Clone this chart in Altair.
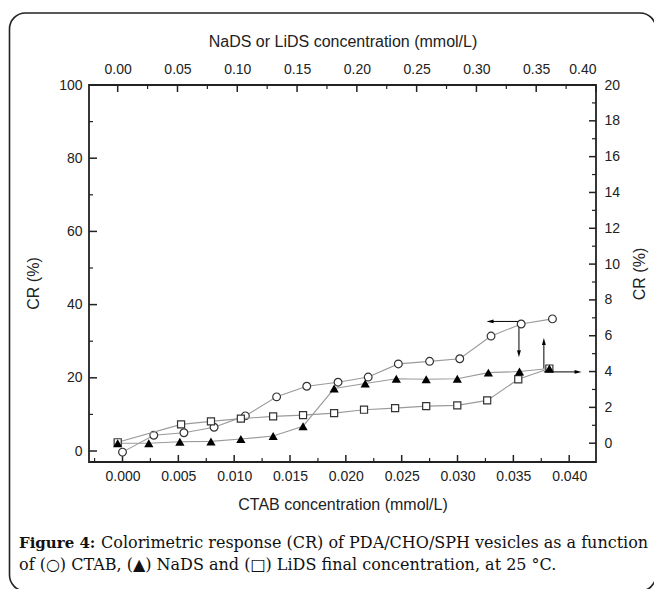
import altair as alt
import pandas as pd

# ---- data ----
ctab_x = [0.0000, 0.0028, 0.0055, 0.0082, 0.0110, 0.0138, 0.0165, 0.0193,
          0.0220, 0.0247, 0.0275, 0.0302, 0.0330, 0.0357, 0.0385]
ctab_cr = [-0.3, 4.3, 5.0, 6.5, 9.6, 14.8, 17.7, 18.8,
           20.2, 23.8, 24.5, 25.2, 31.4, 34.7, 36.1]

nads_x = [0.000, 0.026, 0.052, 0.078, 0.103, 0.130, 0.155, 0.181,
          0.207, 0.233, 0.258, 0.284, 0.310, 0.336, 0.361]
nads_cr = [0.00, 0.00, 0.08, 0.10, 0.23, 0.40, 0.95, 3.05,
           3.33, 3.60, 3.57, 3.60, 3.94, 4.00, 4.17]

lids_x = [0.000, 0.053, 0.078, 0.103, 0.130, 0.155, 0.181,
          0.206, 0.232, 0.258, 0.284, 0.309, 0.335, 0.361]
lids_cr = [0.05, 1.05, 1.22, 1.37, 1.50, 1.57, 1.68,
           1.87, 1.96, 2.07, 2.11, 2.39, 3.57, 4.17]

# tick values
ctab_major = [0.000, 0.005, 0.010, 0.015, 0.020, 0.025, 0.030, 0.035, 0.040]
ctab_minor = [-0.0025, 0.0025, 0.0075, 0.0125, 0.0175, 0.0225, 0.0275, 0.0325, 0.0375]
sds_major = [0.00, 0.05, 0.10, 0.15, 0.20, 0.25, 0.30, 0.35, 0.40]
sds_minor = [0.025, 0.075, 0.125, 0.175, 0.225, 0.275, 0.325, 0.375]
crl_major = [0, 20, 40, 60, 80, 100]
crl_minor = [10, 30, 50, 70, 90]
crr_major = [0, 2, 4, 6, 8, 10, 12, 14, 16, 18, 20]
crr_minor = [1, 3, 5, 7, 9, 11, 13, 15, 17, 19]

# arrows (data coordinates)
arrow_left_seg = [(0.0355, 35.4, 0.0330, 35.4), (0.0355, 35.4, 0.0355, 27.5)]
arrow_left_head = [(0.0326, 35.4, "M0,0L2,-0.55L2,0.55Z"),
                   (0.0355, 25.6, "M0,0L-0.55,-2L0.55,-2Z")]
arrow_right_seg = [(0.3564, 4.17, 0.3564, 5.5), (0.3564, 3.98, 0.384, 3.98)]
arrow_right_head = [(0.3564, 5.87, "M0,0L-0.55,2L0.55,2Z"),
                    (0.3879, 3.98, "M0,0L-2,-0.55L-2,0.55Z")]

W, H = 507, 377
SANS = "Liberation Sans"
SERIF = "DejaVu Serif"

xb = alt.Scale(domain=[-0.003, 0.0424], nice=False, zero=False)
yl = alt.Scale(domain=[-3, 100], nice=False, zero=False)
xt = alt.Scale(domain=[-0.024, 0.40], nice=False, zero=False)
yr = alt.Scale(domain=[-1.05, 20], nice=False, zero=False)

common = dict(ticks=False, domain=False, grid=False, labelFont=SANS, labelFontSize=14,
              labelColor="#222", titleFont=SANS, titleFontSize=16, titleColor="#222",
              titleFontWeight="normal")

ax_bottom = alt.Axis(orient="bottom", values=ctab_major, format=".3f", labelPadding=7,
                     title="CTAB concentration (mmol/L)", titlePadding=13, **common)
ax_left = alt.Axis(orient="left", values=crl_major, format="d", labelPadding=7,
                   title="CR (%)", titlePadding=17, titleY=198, **common)
ax_top = alt.Axis(orient="top", values=sds_major, format=".2f", labelPadding=9,
                  title="NaDS or LiDS concentration (mmol/L)", titlePadding=13, **common)
ax_right = alt.Axis(orient="right", values=crr_major, format="d", labelPadding=8,
                    title="CR (%)", titlePadding=12, titleAngle=270, titleBaseline="top",
                    **common)


def XB(f):
    return alt.X(f, type="quantitative", scale=xb, axis=ax_bottom)


def YL(f):
    return alt.Y(f, type="quantitative", scale=yl, axis=ax_left)


def XT(f):
    return alt.X(f, type="quantitative", scale=xt, axis=ax_top)


def YR(f):
    return alt.Y(f, type="quantitative", scale=yr, axis=ax_right)


ctab_df = pd.DataFrame({"x": ctab_x, "y": ctab_cr})
nads_df = pd.DataFrame({"x": nads_x, "y": nads_cr})
lids_df = pd.DataFrame({"x": lids_x, "y": lids_cr})

# ---------- left / bottom group (CTAB) ----------
c_line = alt.Chart(ctab_df).mark_line(color="#9a9a9a", strokeWidth=1.1).encode(
    x=XB("x"), y=YL("y"))
c_pts = alt.Chart(ctab_df).mark_point(shape="circle", fill="white", fillOpacity=1, opacity=1,
                                      stroke="#333", strokeWidth=1.2, size=60).encode(
    x=XB("x"), y=YL("y"))

bmaj = alt.Chart(pd.DataFrame({"x": ctab_major})).mark_rule(color="#222", strokeWidth=1.5).encode(
    x=XB("x"), y=alt.value(H), y2=alt.value(H - 7))
bmin = alt.Chart(pd.DataFrame({"x": ctab_minor})).mark_rule(color="#222", strokeWidth=1.2).encode(
    x=XB("x"), y=alt.value(H), y2=alt.value(H - 4))
lmaj = alt.Chart(pd.DataFrame({"y": crl_major})).mark_rule(color="#222", strokeWidth=1.5).encode(
    y=YL("y"), x=alt.value(0), x2=alt.value(8))
lmin = alt.Chart(pd.DataFrame({"y": crl_minor})).mark_rule(color="#222", strokeWidth=1.2).encode(
    y=YL("y"), x=alt.value(0), x2=alt.value(4))

l_seg_df = pd.DataFrame(arrow_left_seg, columns=["x", "y", "x2", "y2"])
l_head_df = pd.DataFrame(arrow_left_head, columns=["x", "y", "shape"])
l_seg = alt.Chart(l_seg_df).mark_rule(color="black", strokeWidth=1).encode(
    x=XB("x"), y=YL("y"), x2="x2:Q", y2="y2:Q")
l_head = alt.Chart(l_head_df).mark_point(filled=True, color="black", opacity=1, size=49).encode(
    x=XB("x"), y=YL("y"), shape=alt.Shape("shape:N", scale=None))

one = alt.Data(values=[{"k": 1}])
border = alt.Chart(one).mark_rect(fill="white", fillOpacity=0, stroke="#222", strokeWidth=1.6,
                                  cornerRadius=16).encode(
    x=alt.value(-79.5), x2=alt.value(567), y=alt.value(-72), y2=alt.value(506))
cap1a = alt.Chart(one).mark_text(align="left", baseline="alphabetic", font=SERIF, fontSize=15,
                                 fontWeight="bold", color="#111").encode(
    x=alt.value(-70), y=alt.value(463), text=alt.value("Figure 4:"))
cap1b = alt.Chart(one).mark_text(align="left", baseline="alphabetic", font=SERIF, fontSize=16,
                                 color="#111").encode(
    x=alt.value(12), y=alt.value(463),
    text=alt.value("Colorimetric response (CR) of PDA/CHO/SPH vesicles as a function"))
cap2 = alt.Chart(one).mark_text(align="left", baseline="alphabetic", font=SERIF, fontSize=16,
                                color="#111").encode(
    x=alt.value(-70), y=alt.value(485),
    text=alt.value("of (\u25CB) CTAB, (\u25B2) NaDS and (\u25A1) LiDS final concentration, at 25 \u00B0C."))

left_group = alt.layer(c_line, bmaj, bmin, lmaj, lmin, l_seg, l_head, c_pts,
                       border, cap1a, cap1b, cap2)

# ---------- right / top group (NaDS, LiDS) ----------
n_line = alt.Chart(nads_df).mark_line(color="#9a9a9a", strokeWidth=1.1).encode(
    x=XT("x"), y=YR("y"))
s_line = alt.Chart(lids_df).mark_line(color="#9a9a9a", strokeWidth=1.1).encode(
    x=XT("x"), y=YR("y"))
s_pts = alt.Chart(lids_df).mark_point(shape="square", fill="white", fillOpacity=1, opacity=1,
                                      stroke="#333", strokeWidth=1.2, size=50).encode(
    x=XT("x"), y=YR("y"))
n_pts = alt.Chart(nads_df).mark_point(shape="triangle-up", filled=True, color="black",
                                      opacity=1, size=85).encode(
    x=XT("x"), y=YR("y"))

tmaj = alt.Chart(pd.DataFrame({"x": sds_major})).mark_rule(color="#222", strokeWidth=1.5).encode(
    x=XT("x"), y=alt.value(0), y2=alt.value(7))
tmin = alt.Chart(pd.DataFrame({"x": sds_minor})).mark_rule(color="#222", strokeWidth=1.2).encode(
    x=XT("x"), y=alt.value(0), y2=alt.value(4))
rmaj = alt.Chart(pd.DataFrame({"y": crr_major})).mark_rule(color="#222", strokeWidth=1.5).encode(
    y=YR("y"), x=alt.value(W), x2=alt.value(W - 7))
rmin = alt.Chart(pd.DataFrame({"y": crr_minor})).mark_rule(color="#222", strokeWidth=1.2).encode(
    y=YR("y"), x=alt.value(W), x2=alt.value(W - 4))

r_seg_df = pd.DataFrame(arrow_right_seg, columns=["x", "y", "x2", "y2"])
r_head_df = pd.DataFrame(arrow_right_head, columns=["x", "y", "shape"])
r_seg = alt.Chart(r_seg_df).mark_rule(color="black", strokeWidth=1).encode(
    x=XT("x"), y=YR("y"), x2="x2:Q", y2="y2:Q")
r_head = alt.Chart(r_head_df).mark_point(filled=True, color="black", opacity=1, size=49).encode(
    x=XT("x"), y=YR("y"), shape=alt.Shape("shape:N", scale=None))

right_group = alt.layer(n_line, s_line, tmaj, tmin, rmaj, rmin, r_seg, r_head, s_pts, n_pts)

chart = alt.layer(left_group, right_group).resolve_scale(
    x="independent", y="independent").properties(
    width=W, height=H,
    padding={"left": 81, "top": 77, "right": 58, "bottom": 127},
    autosize=alt.AutoSizeParams(type="none"),
    background="white",
).configure_view(stroke="#222", strokeWidth=1.8)

chart.save("out.html", embed_options={"renderer": "svg", "actions": False})
